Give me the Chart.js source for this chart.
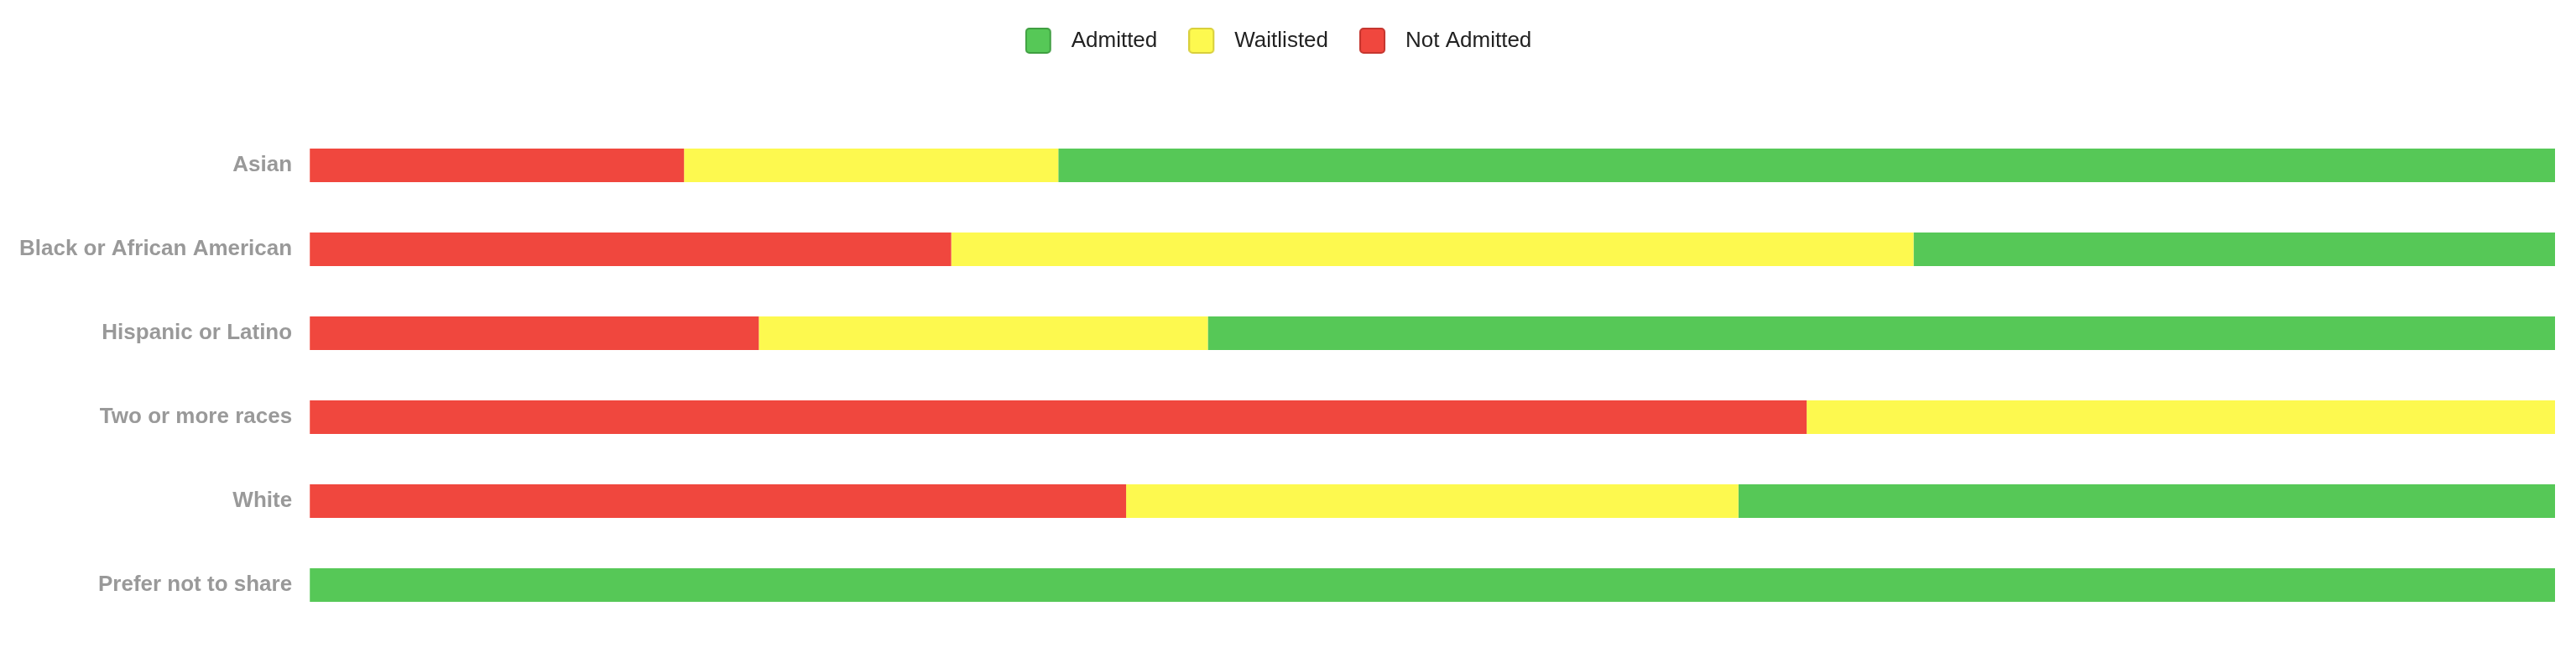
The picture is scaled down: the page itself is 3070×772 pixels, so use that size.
<!DOCTYPE html>
<html>
<head>
<meta charset="utf-8">
<script src="https://cdn.jsdelivr.net/npm/chart.js@4.4.1/dist/chart.umd.min.js"></script>
<style>
	html, body { margin:0; padding:0; background:#fff; }
	#wrap { width:3070px; height:772px; position:relative; }
</style>
</head>
<body>
<div id="wrap"><canvas id="myChart"></canvas></div>
<script>
"use strict"
// percent of applicants per group
const categories = ['Asian', 'Black or African American', 'Hispanic or Latino', 'Two or more races', 'White', 'Prefer not to share']
const notAdmitted = [16.67, 28.57, 20, 66.67, 36.36, 0]
const waitlisted = [16.67, 42.86, 20, 33.33, 27.27, 0]
const admitted = [66.66, 28.57, 60, 0, 36.37, 100]

let colors = {
	admitted : ['#56c857', '#3f9e41'],
	waitlisted : ['#fdf94f', '#d8cf3c'],
	notAdmitted : ['#f0473e', '#c5362f']
}

// legend swatch: rounded box with some empty space on the right
let swatch=(fill, stroke)=>{
	let c = document.createElement('canvas')
	c.width = 42
	c.height = 31
	let g = c.getContext('2d')
	g.fillStyle = fill
	g.strokeStyle = stroke
	g.lineWidth = 2
	g.beginPath()
	g.roundRect(1, 1, 29, 29, 4)
	g.fill()
	g.stroke()
	return c
}

let legendSpace = {
	id : 'legendSpace',
	beforeInit(chart){
		let fit = chart.legend.fit
		chart.legend.fit = function(){
			fit.bind(chart.legend)()
			this.height += 74
		}
	},
	afterLayout(chart){
		chart.legend.top -= 1.5
	}
}

let ctx = document.getElementById('myChart')
let myBarChart = new Chart(ctx, {
	type : 'bar',
	data : {
		labels : categories,
		datasets : [{
			label : 'Not Admitted',
			data : notAdmitted,
			backgroundColor : colors.notAdmitted[0],
			pointStyle : swatch(colors.notAdmitted[0], colors.notAdmitted[1])
		}, {
			label : 'Waitlisted',
			data : waitlisted,
			backgroundColor : colors.waitlisted[0],
			pointStyle : swatch(colors.waitlisted[0], colors.waitlisted[1])
		}, {
			label : 'Admitted',
			data : admitted,
			backgroundColor : colors.admitted[0],
			pointStyle : swatch(colors.admitted[0], colors.admitted[1])
		}]
	},
	options : {
		indexAxis : 'y',
		responsive : true,
		maintainAspectRatio : false,
		animation : false,
		barPercentage : 0.5,
		categoryPercentage : 0.8,
		layout : { autoPadding : false, padding : { left : 2, right : 25, top : 0, bottom : 25 } },
		scales : {
			x : {
				stacked : true,
				display : false,
				min : 0,
				max : 100
			},
			y : {
				stacked : true,
				grid : { display : false, drawTicks : false },
				border : { display : false },
				ticks : {
					padding : 21,
					color : '#999999',
					// small lineHeight so the axis does not pull the bottom up
					font : { family : 'Liberation Sans', size : 26, weight : 'bold', lineHeight : 0.3 }
				}
			}
		},
		plugins : {
			tooltip : { enabled : false },
			legend : {
				position : 'top',
				reverse : true,
				labels : {
					usePointStyle : true,
					pointStyleWidth : 42,
					padding : 37,
					color : '#222222',
					font : { family : 'Liberation Sans', size : 26 },
					generateLabels : (chart)=>{
						let items = Chart.defaults.plugins.legend.labels.generateLabels(chart)
						items.forEach(it=>{
							it.pointStyle = chart.data.datasets[it.datasetIndex].pointStyle
						})
						return items
					}
				}
			}
		}
	},
	plugins : [legendSpace]
})
</script>
</body>
</html>
